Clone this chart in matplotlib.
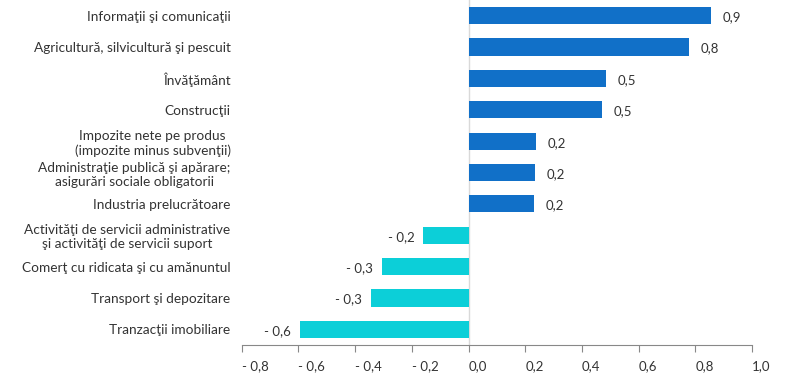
import matplotlib
matplotlib.use("Agg")
import matplotlib.pyplot as plt
import numpy as np

plt.rcParams['font.family'] = ['Lato', 'DejaVu Sans']

# sectoare (de sus in jos) si contributia lor
categorii = [
    "Informaţii şi comunicaţii",
    "Agricultură, silvicultură şi pescuit",
    "Învăţământ",
    "Construcţii",
    "Impozite nete pe produs\n(impozite minus subvenţii)",
    "Administraţie publică şi apărare;\nasigurări sociale obligatorii",
    "Industria prelucrătoare",
    "Activităţi de servicii administrative\nşi activităţi de servicii suport",
    "Comerţ cu ridicata şi cu amănuntul",
    "Transport şi depozitare",
    "Tranzacţii imobiliare",
]
valori = [0.854, 0.777, 0.484, 0.47, 0.237, 0.233, 0.23, -0.159, -0.304, -0.343, -0.594]
ticks_x = [-0.8, -0.6, -0.4, -0.2, 0.0, 0.2, 0.4, 0.6, 0.8, 1.0]

albastru = "#1170c8"
turcoaz = "#0ccfd8"
text_col = "#333333"


def fmt(v):
    s = "%.1f" % abs(v)
    s = s.replace(".", ",")
    return ("- " + s) if v < 0 else s


fig = plt.figure(figsize=(7.89, 3.81), dpi=100)
ax = fig.add_axes([241.7 / 789, 36 / 381, (752 - 241.7) / 789, 345 / 381])

y = np.arange(len(categorii))
culori = [albastru if v >= 0 else turcoaz for v in valori]
ax.barh(y, valori, height=0.55, color=culori, zorder=2)

for yi, v in zip(y, valori):
    if v >= 0:
        ax.text(v + 0.042, yi + 0.05, fmt(v), ha='left', va='center',
                fontsize=9.5, color=text_col)
    else:
        ax.text(v - 0.032, yi + 0.05, fmt(v), ha='right', va='center',
                fontsize=9.5, color=text_col)

ax.axvline(0, color="#d9d9d9", lw=1, zorder=1)

ax.set_ylim(len(categorii) - 0.5, -0.5)
ax.set_xlim(-0.8, 1.0)
ax.set_yticks(y)
ax.set_yticklabels(categorii, fontsize=9.8, color=text_col, multialignment='center')
ax.tick_params(axis='y', length=0, pad=8)

ax.set_xticks(ticks_x)
ax.set_xticklabels([fmt(t) for t in ticks_x], fontsize=9.5, color=text_col, ha='left')
ax.tick_params(axis='x', length=5, color="#888888", direction='out', pad=6)

for s in ['top', 'right', 'left']:
    ax.spines[s].set_visible(False)
ax.spines['bottom'].set_color("#888888")

fig.savefig("out.png", dpi=100)
